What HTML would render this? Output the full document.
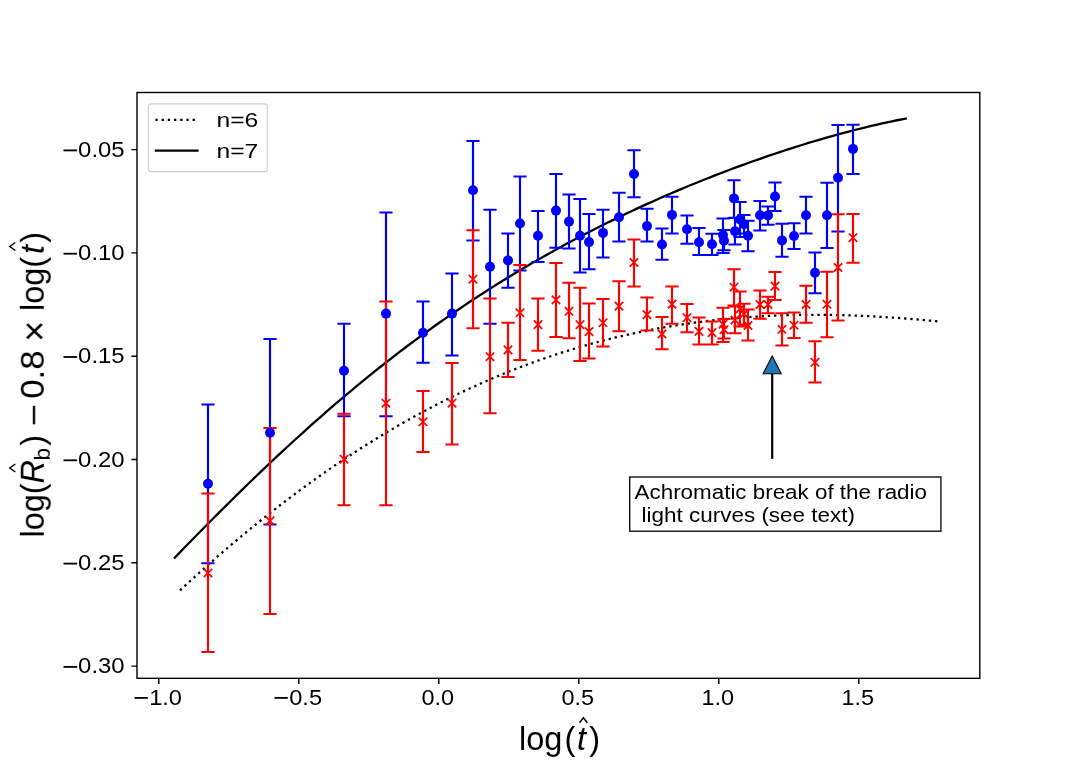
<!DOCTYPE html><html><head><meta charset="utf-8"><style>html,body{margin:0;padding:0;background:#fff;}svg{display:block} text{filter:url(#g)}</style></head><body><svg width="1088" height="763" viewBox="0 0 1088 763" font-family='"Liberation Sans", sans-serif'><defs><filter id="g"><feOffset dx="0" dy="0"/></filter></defs><rect width="1088" height="763" fill="#fff"/><path d="M180.00,590.41 L185.11,585.68 L190.21,580.99 L195.32,576.34 L200.43,571.73 L205.54,567.16 L210.64,562.63 L215.75,558.14 L220.86,553.70 L225.97,549.30 L231.07,544.94 L236.18,540.62 L241.29,536.34 L246.40,532.11 L251.50,527.91 L256.61,523.76 L261.72,519.65 L266.83,515.59 L271.93,511.56 L277.04,507.58 L282.15,503.64 L287.26,499.75 L292.36,495.89 L297.47,492.08 L302.58,488.31 L307.68,484.59 L312.79,480.90 L317.90,477.26 L323.01,473.66 L328.11,470.11 L333.22,466.60 L338.33,463.13 L343.44,459.70 L348.54,456.32 L353.65,452.97 L358.76,449.68 L363.87,446.42 L368.97,443.21 L374.08,440.04 L379.19,436.91 L384.30,433.82 L389.40,430.78 L394.51,427.78 L399.62,424.82 L404.72,421.91 L409.83,419.04 L414.94,416.21 L420.05,413.42 L425.15,410.67 L430.26,407.97 L435.37,405.31 L440.48,402.69 L445.58,400.11 L450.69,397.58 L455.80,395.08 L460.91,392.63 L466.01,390.22 L471.12,387.85 L476.23,385.52 L481.34,383.24 L486.44,380.99 L491.55,378.79 L496.66,376.63 L501.77,374.50 L506.87,372.42 L511.98,370.38 L517.09,368.38 L522.19,366.42 L527.30,364.50 L532.41,362.62 L537.52,360.78 L542.62,358.98 L547.73,357.22 L552.84,355.50 L557.95,353.81 L563.05,352.17 L568.16,350.56 L573.27,349.00 L578.38,347.47 L583.48,345.98 L588.59,344.53 L593.70,343.12 L598.81,341.74 L603.91,340.40 L609.02,339.10 L614.13,337.84 L619.23,336.61 L624.34,335.42 L629.45,334.27 L634.56,333.15 L639.66,332.07 L644.77,331.02 L649.88,330.01 L654.99,329.03 L660.09,328.09 L665.20,327.19 L670.31,326.32 L675.42,325.48 L680.52,324.68 L685.63,323.91 L690.74,323.17 L695.85,322.47 L700.95,321.80 L706.06,321.17 L711.17,320.56 L716.28,319.99 L721.38,319.45 L726.49,318.94 L731.60,318.46 L736.70,318.02 L741.81,317.60 L746.92,317.22 L752.03,316.86 L757.13,316.54 L762.24,316.24 L767.35,315.97 L772.46,315.73 L777.56,315.52 L782.67,315.34 L787.78,315.19 L792.89,315.06 L797.99,314.96 L803.10,314.89 L808.21,314.85 L813.32,314.83 L818.42,314.83 L823.53,314.86 L828.64,314.92 L833.74,315.00 L838.85,315.10 L843.96,315.23 L849.07,315.39 L854.17,315.56 L859.28,315.76 L864.39,315.98 L869.50,316.23 L874.60,316.49 L879.71,316.78 L884.82,317.08 L889.93,317.41 L895.03,317.76 L900.14,318.12 L905.25,318.51 L910.36,318.92 L915.46,319.34 L920.57,319.78 L925.68,320.24 L930.79,320.72 L935.89,321.21 L941.00,321.72" fill="none" stroke="#000" stroke-width="2.3" stroke-dasharray="2.3 3.9" stroke-linecap="butt"/><path d="M174.00,558.43 L178.92,553.36 L183.84,548.30 L188.75,543.25 L193.67,538.23 L198.59,533.22 L203.51,528.22 L208.43,523.25 L213.34,518.30 L218.26,513.37 L223.18,508.46 L228.10,503.58 L233.02,498.72 L237.94,493.88 L242.85,489.07 L247.77,484.28 L252.69,479.52 L257.61,474.79 L262.53,470.09 L267.44,465.42 L272.36,460.77 L277.28,456.15 L282.20,451.57 L287.12,447.01 L292.03,442.49 L296.95,438.00 L301.87,433.54 L306.79,429.11 L311.71,424.71 L316.63,420.35 L321.54,416.02 L326.46,411.73 L331.38,407.47 L336.30,403.24 L341.22,399.05 L346.13,394.89 L351.05,390.76 L355.97,386.67 L360.89,382.62 L365.81,378.60 L370.72,374.62 L375.64,370.67 L380.56,366.76 L385.48,362.88 L390.40,359.04 L395.32,355.23 L400.23,351.46 L405.15,347.72 L410.07,344.02 L414.99,340.36 L419.91,336.72 L424.82,333.13 L429.74,329.57 L434.66,326.04 L439.58,322.55 L444.50,319.10 L449.41,315.67 L454.33,312.29 L459.25,308.93 L464.17,305.61 L469.09,302.33 L474.01,299.08 L478.92,295.86 L483.84,292.67 L488.76,289.52 L493.68,286.40 L498.60,283.31 L503.51,280.26 L508.43,277.23 L513.35,274.24 L518.27,271.28 L523.19,268.35 L528.10,265.45 L533.02,262.58 L537.94,259.75 L542.86,256.94 L547.78,254.16 L552.70,251.41 L557.61,248.69 L562.53,246.00 L567.45,243.34 L572.37,240.70 L577.29,238.10 L582.20,235.52 L587.12,232.97 L592.04,230.45 L596.96,227.95 L601.88,225.48 L606.79,223.03 L611.71,220.62 L616.63,218.22 L621.55,215.86 L626.47,213.52 L631.39,211.20 L636.30,208.91 L641.22,206.64 L646.14,204.40 L651.06,202.18 L655.98,199.98 L660.89,197.81 L665.81,195.66 L670.73,193.53 L675.65,191.43 L680.57,189.35 L685.48,187.29 L690.40,185.26 L695.32,183.24 L700.24,181.25 L705.16,179.28 L710.08,177.34 L714.99,175.41 L719.91,173.51 L724.83,171.63 L729.75,169.77 L734.67,167.93 L739.58,166.11 L744.50,164.32 L749.42,162.54 L754.34,160.79 L759.26,159.06 L764.17,157.35 L769.09,155.67 L774.01,154.00 L778.93,152.36 L783.85,150.74 L788.77,149.14 L793.68,147.56 L798.60,146.01 L803.52,144.48 L808.44,142.97 L813.36,141.49 L818.27,140.03 L823.19,138.60 L828.11,137.19 L833.03,135.80 L837.95,134.44 L842.86,133.10 L847.78,131.79 L852.70,130.51 L857.62,129.26 L862.54,128.03 L867.46,126.83 L872.37,125.66 L877.29,124.51 L882.21,123.40 L887.13,122.32 L892.05,121.27 L896.96,120.25 L901.88,119.27 L906.80,118.32" fill="none" stroke="#000" stroke-width="2.3" stroke-linecap="butt"/><path d="M208,404.5V563.2M270,338.9V524.5M344,323.8V416.3M386,212.6V416.3M423,301.6V362.7M452,273.5V355.5M473,141.0V240.4M490,209.8V323.8M508,233.4V287.7M520,176.4V270.6M538,211.0V261.9M556,174.1V247.8M569,194.6V248.6M580,199.0V272.6M589,213.9V269.3M603,209.8V257.4M619,192.8V241.4M634,150.2V197.2M647,208.8V241.4M662,228.5V259.8M672,196.8V233.6M687,215.6V243.8M699,228.1V255.1M712,233.7V255.1M723,218.4V253.0M724,230.1V250.2M734,180.3V217.9M735,217.8V244.6M740,202.1V236.9M744,215.1V233.5M748,220.7V251.3M760,201.0V230.5M768,206.6V224.8M775,182.4V210.9M782,223.7V256.7M794,223.2V249.0M806,196.8V233.4M815,252.6V293.2M827,182.8V247.9M838,125.0V231.6M853,124.7V174.0" stroke="#0000ff" stroke-width="2.15" fill="none"/><path d="M201.4,404.5H214.6M201.4,563.2H214.6M263.4,338.9H276.6M263.4,524.5H276.6M337.4,323.8H350.6M337.4,416.3H350.6M379.4,212.6H392.6M379.4,416.3H392.6M416.4,301.6H429.6M416.4,362.7H429.6M445.4,273.5H458.6M445.4,355.5H458.6M466.4,141.0H479.6M466.4,240.4H479.6M483.4,209.8H496.6M483.4,323.8H496.6M501.4,233.4H514.6M501.4,287.7H514.6M513.4,176.4H526.6M513.4,270.6H526.6M531.4,211.0H544.6M531.4,261.9H544.6M549.4,174.1H562.6M549.4,247.8H562.6M562.4,194.6H575.6M562.4,248.6H575.6M573.4,199.0H586.6M573.4,272.6H586.6M582.4,213.9H595.6M582.4,269.3H595.6M596.4,209.8H609.6M596.4,257.4H609.6M612.4,192.8H625.6M612.4,241.4H625.6M627.4,150.2H640.6M627.4,197.2H640.6M640.4,208.8H653.6M640.4,241.4H653.6M655.4,228.5H668.6M655.4,259.8H668.6M665.4,196.8H678.6M665.4,233.6H678.6M680.4,215.6H693.6M680.4,243.8H693.6M692.4,228.1H705.6M692.4,255.1H705.6M705.4,233.7H718.6M705.4,255.1H718.6M716.4,218.4H729.6M716.4,253.0H729.6M717.4,230.1H730.6M717.4,250.2H730.6M727.4,180.3H740.6M727.4,217.9H740.6M728.4,217.8H741.6M728.4,244.6H741.6M733.4,202.1H746.6M733.4,236.9H746.6M737.4,215.1H750.6M737.4,233.5H750.6M741.4,220.7H754.6M741.4,251.3H754.6M753.4,201.0H766.6M753.4,230.5H766.6M761.4,206.6H774.6M761.4,224.8H774.6M768.4,182.4H781.6M768.4,210.9H781.6M775.4,223.7H788.6M775.4,256.7H788.6M787.4,223.2H800.6M787.4,249.0H800.6M799.4,196.8H812.6M799.4,233.4H812.6M808.4,252.6H821.6M808.4,293.2H821.6M820.4,182.8H833.6M820.4,247.9H833.6M831.4,125.0H844.6M831.4,231.6H844.6M846.4,124.7H859.6M846.4,174.0H859.6" stroke="#0000ff" stroke-width="2.0" fill="none"/><path d="M208,493.6V651.9M270,428.0V614.0M344,413.8V505.2M386,301.6V505.2M423,391.0V452.0M452,363.0V444.5M473,230.3V328.3M490,298.4V413.2M508,322.7V377.1M520,264.9V360.0M538,298.4V350.7M556,263.0V337.1M569,282.8V338.3M580,287.8V361.1M589,303.4V358.5M603,299.0V346.6M619,281.3V331.3M634,239.4V286.4M647,297.6V330.6M662,317.0V349.3M672,286.4V323.8M687,304.1V332.3M699,317.5V344.4M712,321.5V344.4M723,307.8V342.0M724,319.0V338.5M734,269.2V305.5M735,306.5V333.2M740,291.6V326.4M744,303.7V324.5M748,309.6V340.5M760,290.4V318.8M768,296.8V313.3M775,272.0V299.9M782,313.3V345.4M794,312.4V338.1M806,285.8V322.8M815,341.2V382.5M827,271.7V337.3M838,214.3V320.6M853,214.0V262.8" stroke="#ff0000" stroke-width="2.15" fill="none"/><path d="M201.4,493.6H214.6M201.4,651.9H214.6M263.4,428.0H276.6M263.4,614.0H276.6M337.4,413.8H350.6M337.4,505.2H350.6M379.4,301.6H392.6M379.4,505.2H392.6M416.4,391.0H429.6M416.4,452.0H429.6M445.4,363.0H458.6M445.4,444.5H458.6M466.4,230.3H479.6M466.4,328.3H479.6M483.4,298.4H496.6M483.4,413.2H496.6M501.4,322.7H514.6M501.4,377.1H514.6M513.4,264.9H526.6M513.4,360.0H526.6M531.4,298.4H544.6M531.4,350.7H544.6M549.4,263.0H562.6M549.4,337.1H562.6M562.4,282.8H575.6M562.4,338.3H575.6M573.4,287.8H586.6M573.4,361.1H586.6M582.4,303.4H595.6M582.4,358.5H595.6M596.4,299.0H609.6M596.4,346.6H609.6M612.4,281.3H625.6M612.4,331.3H625.6M627.4,239.4H640.6M627.4,286.4H640.6M640.4,297.6H653.6M640.4,330.6H653.6M655.4,317.0H668.6M655.4,349.3H668.6M665.4,286.4H678.6M665.4,323.8H678.6M680.4,304.1H693.6M680.4,332.3H693.6M692.4,317.5H705.6M692.4,344.4H705.6M705.4,321.5H718.6M705.4,344.4H718.6M716.4,307.8H729.6M716.4,342.0H729.6M717.4,319.0H730.6M717.4,338.5H730.6M727.4,269.2H740.6M727.4,305.5H740.6M728.4,306.5H741.6M728.4,333.2H741.6M733.4,291.6H746.6M733.4,326.4H746.6M737.4,303.7H750.6M737.4,324.5H750.6M741.4,309.6H754.6M741.4,340.5H754.6M753.4,290.4H766.6M753.4,318.8H766.6M761.4,296.8H774.6M761.4,313.3H774.6M768.4,272.0H781.6M768.4,299.9H781.6M775.4,313.3H788.6M775.4,345.4H788.6M787.4,312.4H800.6M787.4,338.1H800.6M799.4,285.8H812.6M799.4,322.8H812.6M808.4,341.2H821.6M808.4,382.5H821.6M820.4,271.7H833.6M820.4,337.3H833.6M831.4,214.3H844.6M831.4,320.6H844.6M846.4,214.0H859.6M846.4,262.8H859.6" stroke="#ff0000" stroke-width="2.0" fill="none"/><g fill="#0000ff"><circle cx="208" cy="483.8" r="5.0"/><circle cx="270" cy="432.8" r="5.0"/><circle cx="344" cy="370.8" r="5.0"/><circle cx="386" cy="313.6" r="5.0"/><circle cx="423" cy="332.7" r="5.0"/><circle cx="452" cy="313.6" r="5.0"/><circle cx="473" cy="190.2" r="5.0"/><circle cx="490" cy="266.8" r="5.0"/><circle cx="508" cy="260.4" r="5.0"/><circle cx="520" cy="223.5" r="5.0"/><circle cx="538" cy="235.7" r="5.0"/><circle cx="556" cy="210.6" r="5.0"/><circle cx="569" cy="221.6" r="5.0"/><circle cx="580" cy="235.8" r="5.0"/><circle cx="589" cy="242.1" r="5.0"/><circle cx="603" cy="232.9" r="5.0"/><circle cx="619" cy="217.3" r="5.0"/><circle cx="634" cy="174.0" r="5.0"/><circle cx="647" cy="226.1" r="5.0"/><circle cx="662" cy="244.5" r="5.0"/><circle cx="672" cy="214.9" r="5.0"/><circle cx="687" cy="229.2" r="5.0"/><circle cx="699" cy="242.2" r="5.0"/><circle cx="712" cy="244.3" r="5.0"/><circle cx="723" cy="235.1" r="5.0"/><circle cx="724" cy="240.7" r="5.0"/><circle cx="734" cy="198.4" r="5.0"/><circle cx="735" cy="231.2" r="5.0"/><circle cx="740" cy="219.5" r="5.0"/><circle cx="744" cy="224.3" r="5.0"/><circle cx="748" cy="235.7" r="5.0"/><circle cx="760" cy="215.2" r="5.0"/><circle cx="768" cy="215.4" r="5.0"/><circle cx="775" cy="196.5" r="5.0"/><circle cx="782" cy="240.4" r="5.0"/><circle cx="794" cy="236.0" r="5.0"/><circle cx="806" cy="215.2" r="5.0"/><circle cx="815" cy="272.8" r="5.0"/><circle cx="827" cy="215.3" r="5.0"/><circle cx="838" cy="177.8" r="5.0"/><circle cx="853" cy="148.9" r="5.0"/></g><path d="M203.8,568.8L212.2,577.2M203.8,577.2L212.2,568.8M265.8,516.5999999999999L274.2,525.0M265.8,525.0L274.2,516.5999999999999M339.8,455.0L348.2,463.4M339.8,463.4L348.2,455.0M381.8,399.0L390.2,407.4M381.8,407.4L390.2,399.0M418.8,417.6L427.2,426.0M418.8,426.0L427.2,417.6M447.8,399.0L456.2,407.4M447.8,407.4L456.2,399.0M468.8,275.0L477.2,283.4M468.8,283.4L477.2,275.0M485.8,352.5L494.2,360.9M485.8,360.9L494.2,352.5M503.8,345.7L512.2,354.09999999999997M503.8,354.09999999999997L512.2,345.7M515.8,308.6L524.2,317.0M515.8,317.0L524.2,308.6M533.8,320.40000000000003L542.2,328.8M533.8,328.8L542.2,320.40000000000003M551.8,295.7L560.2,304.09999999999997M551.8,304.09999999999997L560.2,295.7M564.8,307.1L573.2,315.5M564.8,315.5L573.2,307.1M575.8,320.5L584.2,328.9M575.8,328.9L584.2,320.5M584.8,327.40000000000003L593.2,335.8M584.8,335.8L593.2,327.40000000000003M598.8,318.6L607.2,327.0M598.8,327.0L607.2,318.6M614.8,301.90000000000003L623.2,310.3M614.8,310.3L623.2,301.90000000000003M629.8,258.3L638.2,266.7M629.8,266.7L638.2,258.3M642.8,310.40000000000003L651.2,318.8M642.8,318.8L651.2,310.40000000000003M657.8,329.8L666.2,338.2M657.8,338.2L666.2,329.8M667.8,299.90000000000003L676.2,308.3M667.8,308.3L676.2,299.90000000000003M682.8,313.5L691.2,321.9M682.8,321.9L691.2,313.5M694.8,327.2L703.2,335.59999999999997M694.8,335.59999999999997L703.2,327.2M707.8,328.40000000000003L716.2,336.8M707.8,336.8L716.2,328.40000000000003M718.8,320.1L727.2,328.5M718.8,328.5L727.2,320.1M719.8,325.5L728.2,333.9M719.8,333.9L728.2,325.5M729.8,283.0L738.2,291.4M729.8,291.4L738.2,283.0M730.8,315.8L739.2,324.2M730.8,324.2L739.2,315.8M735.8,304.8L744.2,313.2M735.8,313.2L744.2,304.8M739.8,309.8L748.2,318.2M739.8,318.2L748.2,309.8M743.8,321.3L752.2,329.7M743.8,329.7L752.2,321.3M755.8,300.3L764.2,308.7M755.8,308.7L764.2,300.3M763.8,300.3L772.2,308.7M763.8,308.7L772.2,300.3M770.8,281.90000000000003L779.2,290.3M770.8,290.3L779.2,281.90000000000003M777.8,325.1L786.2,333.5M777.8,333.5L786.2,325.1M789.8,321.0L798.2,329.4M789.8,329.4L798.2,321.0M801.8,300.3L810.2,308.7M801.8,308.7L810.2,300.3M810.8,358.1L819.2,366.5M810.8,366.5L819.2,358.1M822.8,300.1L831.2,308.5M822.8,308.5L831.2,300.1M833.8,263.3L842.2,271.7M833.8,271.7L842.2,263.3M848.8,233.5L857.2,241.89999999999998M848.8,241.89999999999998L857.2,233.5" stroke="#ff0000" stroke-width="1.75" fill="none"/><rect x="137.0" y="92.5" width="842.8" height="585.8" fill="none" stroke="#000" stroke-width="1.4"/><path d="M158.8,678.3V683.9M298.8,678.3V683.9M438.8,678.3V683.9M578.8,678.3V683.9M718.8,678.3V683.9M858.8,678.3V683.9M137.0,149.6H131.4M137.0,252.9H131.4M137.0,356.2H131.4M137.0,459.5H131.4M137.0,562.8H131.4M137.0,666.1H131.4" stroke="#000" stroke-width="1.4"/><rect x="134.5" y="697.00" width="13.3" height="1.8" fill="#000"/><text x="149.2" y="704.9" font-size="21.2" textLength="32.8" lengthAdjust="spacingAndGlyphs">1.0</text><rect x="274.5" y="697.00" width="13.3" height="1.8" fill="#000"/><text x="289.2" y="704.9" font-size="21.2" textLength="32.9" lengthAdjust="spacingAndGlyphs">0.5</text><text x="421.5" y="704.9" font-size="21.2" textLength="32.6" lengthAdjust="spacingAndGlyphs">0.0</text><text x="561.5" y="704.9" font-size="21.2" textLength="32.6" lengthAdjust="spacingAndGlyphs">0.5</text><text x="701.5" y="704.9" font-size="21.2" textLength="32.6" lengthAdjust="spacingAndGlyphs">1.0</text><text x="841.5" y="704.9" font-size="21.2" textLength="32.6" lengthAdjust="spacingAndGlyphs">1.5</text><rect x="63.5" y="149.50" width="13.6" height="1.8" fill="#000"/><text x="78.1" y="156.8" font-size="21.2" textLength="46.5" lengthAdjust="spacingAndGlyphs">0.05</text><rect x="63.5" y="252.80" width="13.6" height="1.8" fill="#000"/><text x="78.1" y="260.1" font-size="21.2" textLength="46.5" lengthAdjust="spacingAndGlyphs">0.10</text><rect x="63.5" y="356.10" width="13.6" height="1.8" fill="#000"/><text x="78.1" y="363.4" font-size="21.2" textLength="46.5" lengthAdjust="spacingAndGlyphs">0.15</text><rect x="63.5" y="459.40" width="13.6" height="1.8" fill="#000"/><text x="78.1" y="466.7" font-size="21.2" textLength="46.5" lengthAdjust="spacingAndGlyphs">0.20</text><rect x="63.5" y="562.70" width="13.6" height="1.8" fill="#000"/><text x="78.1" y="570.0" font-size="21.2" textLength="46.5" lengthAdjust="spacingAndGlyphs">0.25</text><rect x="63.5" y="666.00" width="13.6" height="1.8" fill="#000"/><text x="78.1" y="673.3" font-size="21.2" textLength="46.5" lengthAdjust="spacingAndGlyphs">0.30</text><text x="519.0" y="749.6" font-size="32.5">log</text><text x="564.6" y="749.6" font-size="32.5">(</text><text x="577.0" y="749.6" font-size="32.5" font-style="italic">t</text><text x="589.2" y="749.6" font-size="32.5">)</text><path d="M579.5,722.8 L583.4,717.8 L587.3,722.8" fill="none" stroke="#000" stroke-width="1.5"/><g transform="translate(43.8,536) rotate(-90)"><text x="-1.5" y="0" font-size="32.5">log(</text><text x="52.5" y="0" font-size="32.5" font-style="italic">R</text><text x="75.5" y="6" font-size="22.5">b</text><text x="90.3" y="0" font-size="32.5">)</text><text x="109.6" y="1.3" font-size="32.5" textLength="22.4" lengthAdjust="spacingAndGlyphs">−</text><text x="137.2" y="0" font-size="32.5" textLength="48.4" lengthAdjust="spacingAndGlyphs">0.8</text><text x="194.3" y="2.9" font-size="36">×</text><text x="225" y="0" font-size="32.5">log(</text><text x="282" y="0" font-size="32.5" font-style="italic">t</text><text x="293.3" y="0" font-size="32.5">)</text><path d="M64,-28.5 L68,-34 L72,-28.5" fill="none" stroke="#000" stroke-width="1.5"/><path d="M285.5,-28.5 L289.5,-34 L293.5,-28.5" fill="none" stroke="#000" stroke-width="1.5"/></g><rect x="148.4" y="103.8" width="119" height="67.8" rx="2.8" fill="#fff" fill-opacity="0.8" stroke="#d0d0d0" stroke-width="1.2"/><path d="M155.4,119.8H197" stroke="#000" stroke-width="2.3" stroke-dasharray="2.3 3.9"/><path d="M154.8,150.6H198.6" stroke="#000" stroke-width="2.3"/><text x="216.4" y="126.9" font-size="21" textLength="41.9" lengthAdjust="spacingAndGlyphs">n=6</text><text x="216.4" y="157.8" font-size="21" textLength="41.9" lengthAdjust="spacingAndGlyphs">n=7</text><rect x="629.7" y="477.0" width="311.2" height="54.2" fill="#fff" stroke="#000" stroke-width="1.3"/><text x="634.6" y="498.7" font-size="19.5" textLength="292.4" lengthAdjust="spacingAndGlyphs">Achromatic break of the radio</text><text x="641.6" y="521.8" font-size="19.5" textLength="213.4" lengthAdjust="spacingAndGlyphs">light curves (see text)</text><path d="M772.2,458.8V373.5" stroke="#000" stroke-width="2.2"/><path d="M772.2,356 L781.3,373.7 L763.1,373.7 Z" fill="#1f77b4" stroke="#000" stroke-width="1.1" stroke-linejoin="miter"/></svg></body></html>
